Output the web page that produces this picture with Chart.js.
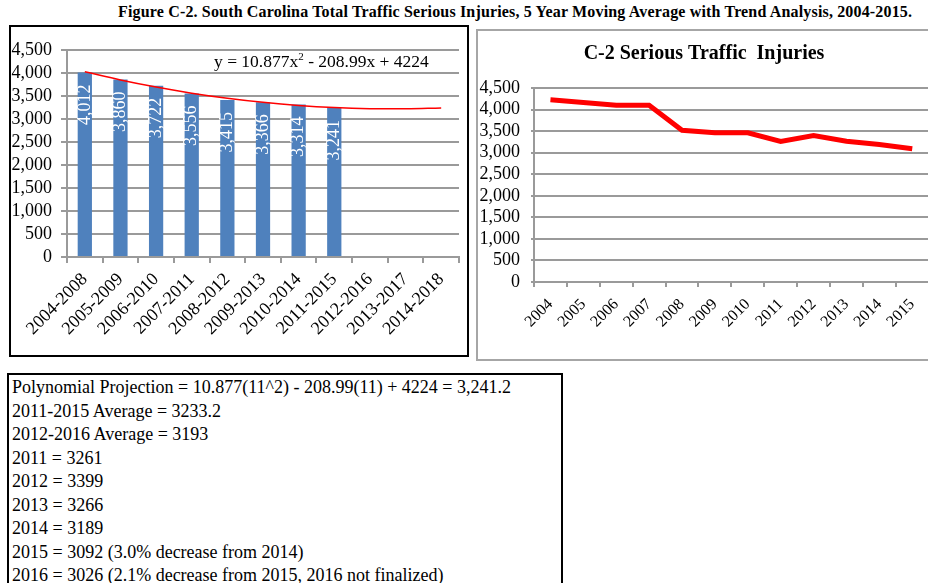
<!DOCTYPE html>
<html>
<head>
<meta charset="utf-8">
<script src="https://cdn.jsdelivr.net/npm/chart.js@4/dist/chart.umd.min.js"></script>
<style>
  html, body { margin: 0; padding: 0; background: #fff; }
  body { width: 928px; height: 583px; position: relative; overflow: hidden; font-family: 'Liberation Serif', 'Times New Roman', serif; }
  #fig-title { position: absolute; left: 118px; top: 3px; font-size: 16px; font-weight: bold; white-space: nowrap; color: #000; }
  .box { position: absolute; box-sizing: border-box; }
  #left-box { left: 9px; top: 25px; width: 460px; height: 332px; border: 2px solid #000; }
  #right-box { left: 476px; top: 29px; width: 460px; height: 332px; border: 2px solid #a6a6a6; }
  #left-box canvas, #right-box canvas { position: absolute; left: 0; top: 0; }
  #equation { position: absolute; left: 203px; top: 24px; font-size: 17.5px; white-space: nowrap; color: #000; }
  #equation sup { font-size: 11px; vertical-align: 7px; line-height: 0; }
  #notes { left: 7px; top: 373px; width: 556px; height: 240px; border: 2px solid #000; padding: 1px 0 0 3px; font-size: 18px; line-height: 23.5px; color: #000; }
  #notes div { white-space: nowrap; }
</style>
</head>
<body>
<span id="fig-title">Figure C-2. South Carolina Total Traffic Serious Injuries, 5 Year Moving Average with Trend Analysis, 2004-2015.</span>

<div class="box" id="left-box">
  <canvas id="avgChart" width="456" height="328"></canvas>
  <div id="equation">y = 10.877x<sup>2</sup> - 208.99x + 4224</div>
</div>

<div class="box" id="right-box">
  <canvas id="yearChart" width="456" height="328"></canvas>
</div>

<div class="box" id="notes">
  <div>Polynomial Projection = 10.877(11^2) - 208.99(11) + 4224 = 3,241.2</div>
  <div>2011-2015 Average = 3233.2</div>
  <div>2012-2016 Average = 3193</div>
  <div>2011 = 3261</div>
  <div>2012 = 3399</div>
  <div>2013 = 3266</div>
  <div>2014 = 3189</div>
  <div>2015 = 3092 (3.0% decrease from 2014)</div>
  <div>2016 = 3026 (2.1% decrease from 2015, 2016 not finalized)</div>
</div>

<script>
// --- DATA ---
const periods = ['2004-2008', '2005-2009', '2006-2010', '2007-2011', '2008-2012', '2009-2013',
                 '2010-2014', '2011-2015', '2012-2016', '2013-2017', '2014-2018'];
const movingAvg = [4012, 3860, 3722, 3556, 3415, 3366, 3314, 3241];
const trendLine = [4026, 3850, 3695, 3562, 3451, 3362, 3294, 3248, 3224, 3222, 3241];

const years = ['2004', '2005', '2006', '2007', '2008', '2009', '2010', '2011', '2012', '2013', '2014', '2015'];
const injuries = [4225, 4165, 4100, 4102, 3520, 3460, 3460, 3261, 3399, 3266, 3189, 3092];

const yTickValues = [0, 500, 1000, 1500, 2000, 2500, 3000, 3500, 4000, 4500];

// --- SHARED STYLE ---
const SERIF = "'Liberation Serif', 'Times New Roman', serif";
const GRID = '#9a9a9a';
Chart.defaults.font.family = SERIF;
Chart.defaults.color = '#000';
Chart.defaults.animation = false;

// stretch the figure title over its line (the original is spaced out)
const titleEl = document.getElementById('fig-title');
const spare = 794 - titleEl.getBoundingClientRect().width;
titleEl.style.letterSpacing = (spare / (titleEl.textContent.length - 1)) + 'px';

function fmt(v) { return Number(v).toLocaleString('en-US'); }

function yScale(width, tickLen, pad) {
    return {
        min: 0,
        max: 4500,
        afterBuildTicks: s => { s.ticks = yTickValues.map(v => ({ value: v })); },
        afterFit: s => { s.width = width; },
        ticks: { font: { size: 18 }, padding: pad, autoSkip: false, callback: fmt },
        grid: { color: GRID, lineWidth: 2, tickLength: tickLen },
        border: { color: GRID, width: 2 }
    };
}

// white value labels written upward inside the bars
const barLabels = {
    id: 'barLabels',
    afterDatasetsDraw(chart) {
        const ctx = chart.ctx;
        const meta = chart.getDatasetMeta(1);
        ctx.save();
        ctx.fillStyle = '#fff';
        ctx.font = '18px ' + SERIF;
        ctx.textAlign = 'right';
        ctx.textBaseline = 'middle';
        meta.data.forEach((bar, i) => {
            ctx.save();
            ctx.translate(bar.x, bar.y + 12);
            ctx.rotate(-Math.PI / 2);
            ctx.fillText(fmt(movingAvg[i]), 0, 0);
            ctx.restore();
        });
        ctx.restore();
    }
};

// --- LEFT: MOVING AVERAGE BARS + TREND ---
new Chart(document.getElementById('avgChart'), {
    data: {
        labels: periods,
        datasets: [
            {
                type: 'line',
                data: trendLine,
                borderColor: '#ff0000',
                borderWidth: 1.5,
                pointRadius: 0,
                tension: 0.4,
                fill: false
            },
            {
                type: 'bar',
                data: movingAvg,
                backgroundColor: '#4f81bd',
                categoryPercentage: 1,
                barPercentage: 0.4
            }
        ]
    },
    options: {
        responsive: false,
        layout: { padding: { top: 23, right: 8, left: 0, bottom: 0 } },
        plugins: { legend: { display: false }, tooltip: { enabled: false } },
        scales: {
            x: {
                offset: true,
                afterFit: s => { s.height = 98; },
                ticks: { font: { size: 18 }, minRotation: 45, maxRotation: 45, autoSkip: false, padding: 6 },
                grid: { offset: true, drawOnChartArea: false, color: GRID, lineWidth: 2, tickLength: 6 },
                border: { color: GRID, width: 2 }
            },
            y: yScale(56, 6, 9)
        }
    },
    plugins: [barLabels]
});

// --- RIGHT: ANNUAL SERIOUS INJURIES ---
new Chart(document.getElementById('yearChart'), {
    type: 'line',
    data: {
        labels: years,
        datasets: [{
            data: injuries,
            borderColor: '#ff0000',
            borderWidth: 5,
            pointRadius: 0,
            tension: 0,
            fill: false
        }]
    },
    options: {
        responsive: false,
        layout: { padding: { top: 0, right: 4, left: 0, bottom: 0 } },
        plugins: {
            legend: { display: false },
            tooltip: { enabled: false },
            title: {
                display: true,
                text: 'C-2 Serious Traffic  Injuries',
                color: '#000',
                font: { size: 20, weight: 'bold', family: SERIF },
                padding: { top: 11, bottom: 22 }
            }
        },
        scales: {
            x: {
                offset: true,
                afterFit: s => { s.height = 77; },
                ticks: { font: { size: 16 }, minRotation: 45, maxRotation: 45, autoSkip: false, padding: 8 },
                grid: { offset: true, drawOnChartArea: false, color: GRID, lineWidth: 2, tickLength: 5 },
                border: { color: GRID, width: 2 }
            },
            y: yScale(56, 3, 11)
        }
    }
});
</script>
</body>
</html>
